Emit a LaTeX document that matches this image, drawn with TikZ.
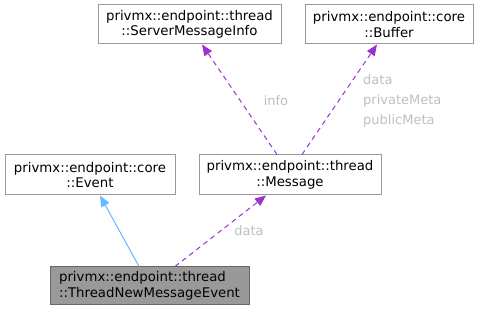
\documentclass[tikz,border=0pt]{standalone}
\usepackage{fontspec}
\setmainfont{DejaVu Sans}
\usetikzlibrary{arrows.meta}
\definecolor{boxborder}{HTML}{999999}
\definecolor{curfill}{HTML}{999999}
\definecolor{curborder}{HTML}{666666}
\definecolor{inhcol}{HTML}{63B8FF}
\definecolor{usecol}{HTML}{9A32CD}
\definecolor{lblcol}{HTML}{BFBFBF}
\tikzset{
  cls/.style={draw=boxborder, fill=white, line width=1pt, align=center, inner sep=0pt,
    font=\fontsize{13.3}{15.5}\selectfont, text=black},
  curcls/.style={cls, draw=curborder, fill=curfill, align=left},
  inh/.style={draw=inhcol, line width=1pt, -{Triangle[length=11pt,width=9pt]}},
  usage/.style={draw=usecol, line width=1pt, dash pattern=on 5pt off 4pt,
    -{Triangle[length=11pt,width=9pt]}},
  lbl/.style={text=lblcol, font=\fontsize{13}{20}\selectfont, inner sep=0pt}
}
\begin{document}
\begin{tikzpicture}[x=1pt,y=-1pt]
\useasboundingbox (0,0) rectangle (480,312);
\node[cls, minimum width=183pt, minimum height=39pt] (smi) at (189.5,24.5)
  {privmx::endpoint::thread\\::ServerMessageInfo};
\node[cls, minimum width=168pt, minimum height=39pt] (buf) at (389,24.5)
  {privmx::endpoint::core\\::Buffer};
\node[cls, minimum width=170pt, minimum height=40pt] (evt) at (90,175)
  {privmx::endpoint::core\\::Event};
\node[cls, minimum width=182pt, minimum height=40pt] (msg) at (290,175)
  {privmx::endpoint::thread\\::Message};
\node[curcls, minimum width=199pt, minimum height=38pt] (tnme) at (149.5,286)
  {privmx::endpoint::thread\\::ThreadNewMessageEvent};
\draw[inh] ([xshift=-10.5pt]tnme.north) -- ([xshift=10pt]evt.south);
\draw[usage] ([xshift=25.5pt]tnme.north) -- ([xshift=-24pt]msg.south);
\draw[usage] ([xshift=-13pt]msg.north) -- ([xshift=12.5pt]smi.south);
\draw[usage] ([xshift=12pt]msg.north) -- ([xshift=-12pt]buf.south);
\node[lbl] (linfo) at (276,101) {info};
\node[lbl] (ldata) at (249,231) {data};
\node[lbl, anchor=west, align=left] (lbuf) at (363,101) {data\\privateMeta\\publicMeta};
\end{tikzpicture}
\end{document}
